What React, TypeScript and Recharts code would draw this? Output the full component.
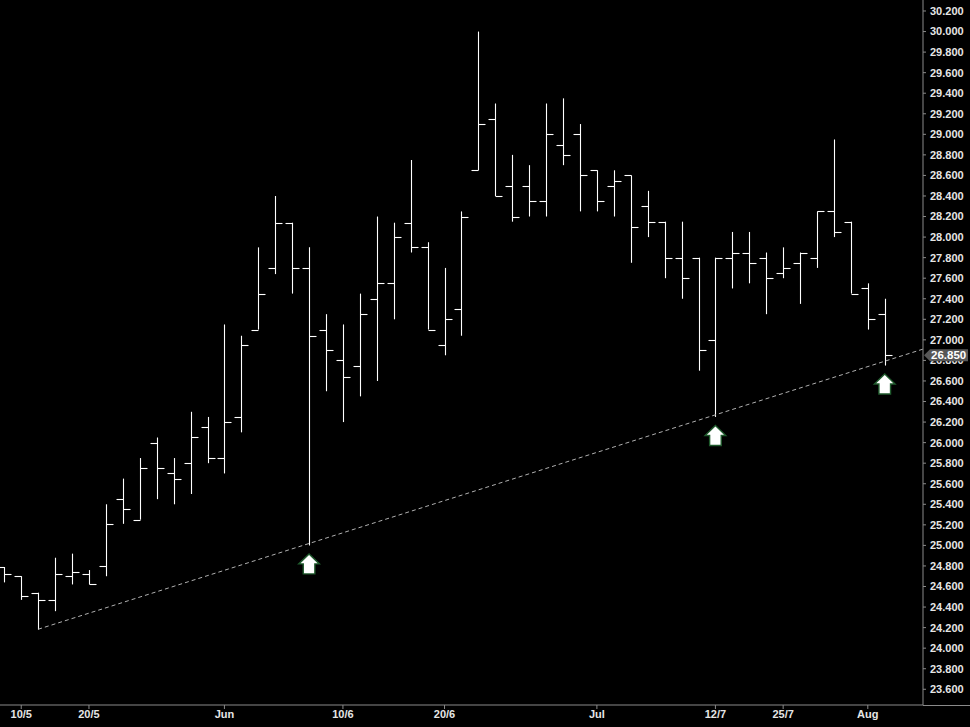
import React from 'react';
import { ComposedChart, Bar, XAxis, YAxis, Scatter, ReferenceLine } from 'recharts';

const opens = [24.79, 24.70, 24.54, 24.47, 24.70, 24.72, 24.80, 25.45, 25.25, 26.00, 25.70, 25.80, 26.15, 25.85, 26.25, 27.10, 27.70, 28.14, 27.70, 27.10, 26.80, 26.75, 27.40, 27.55, 28.14, 27.90, 26.95, 27.30, 28.65, 29.15, 28.50, 28.50, 28.35, 28.90, 29.00, 28.65, 28.50, 28.60, 28.30, 28.15, 27.80, 27.80, 27.00, 27.80, 27.85, 27.80, 27.65, 27.75, 27.80, 28.25, 28.15, 27.50, 27.25];
const highs = [24.79, 24.70, 24.54, 24.88, 24.92, 24.76, 25.40, 25.65, 25.85, 26.05, 25.85, 26.30, 26.25, 27.15, 27.04, 27.90, 28.40, 28.14, 27.90, 27.25, 27.15, 27.45, 28.20, 28.14, 28.75, 27.95, 27.70, 28.25, 30.00, 29.30, 28.80, 28.70, 29.30, 29.35, 29.10, 28.65, 28.65, 28.60, 28.45, 28.15, 28.15, 27.80, 27.80, 28.05, 28.05, 27.85, 27.90, 27.85, 28.25, 28.95, 28.15, 27.55, 27.40];
const lows = [24.64, 24.47, 24.18, 24.36, 24.62, 24.62, 24.70, 25.21, 25.25, 25.45, 25.40, 25.50, 25.80, 25.70, 26.10, 27.10, 27.64, 27.45, 25.00, 26.50, 26.20, 26.45, 26.60, 27.20, 27.85, 27.10, 26.85, 27.04, 28.65, 28.40, 28.15, 28.20, 28.20, 28.70, 28.25, 28.25, 28.20, 27.75, 28.00, 27.60, 27.40, 26.70, 26.25, 27.50, 27.55, 27.25, 27.60, 27.35, 27.70, 28.00, 27.45, 27.10, 26.75];
const closes = [24.72, 24.51, 24.47, 24.72, 24.74, 24.62, 25.21, 25.35, 25.75, 25.75, 25.65, 26.05, 25.85, 26.20, 26.95, 27.45, 28.14, 27.70, 27.04, 26.90, 26.64, 27.25, 27.55, 28.00, 27.90, 27.10, 27.20, 28.20, 29.10, 28.40, 28.20, 28.35, 29.00, 28.80, 28.60, 28.35, 28.55, 28.10, 28.15, 27.80, 27.60, 26.90, 27.80, 27.85, 27.75, 27.60, 27.70, 27.85, 28.25, 28.05, 27.45, 27.20, 26.85];

const tickIdx = [1, 5, 13, 20, 26, 35, 42, 46, 51];
const tickLabels = ['10/5', '20/5', 'Jun', '10/6', '20/6', 'Jul', '12/7', '25/7', 'Aug'];

const priceTicks = [23.6, 23.8, 24.0, 24.2, 24.4, 24.6, 24.8, 25.0, 25.2, 25.4, 25.6, 25.8, 26.0, 26.2, 26.4, 26.6, 26.8, 27.0, 27.2, 27.4, 27.6, 27.8, 28.0, 28.2, 28.4, 28.6, 28.8, 29.0, 29.2, 29.4, 29.6, 29.8, 30.0, 30.2];

const arrowBars = [18, 42, 52];
const trendStart = { i: 2, p: 24.184 };
const trendEnd = { i: 54.26, p: 26.91 };
const lastPrice = 26.85;

const xDomain = [-0.254, 54.26];
const yDomain = [23.447, 30.307];

const data = opens.map((o, i) => ({
  i,
  open: o,
  high: highs[i],
  low: lows[i],
  close: closes[i],
  range: [lows[i], highs[i]],
}));

const arrowData = arrowBars.map((i) => ({ i, p: lows[i] }));
const priceData = [{ i: xDomain[1], p: lastPrice }];

const FONT = '"Liberation Sans", Arial, sans-serif';

const OhlcShape = (props: any) => {
  const { x, y, width, height, payload } = props;
  if (!payload) return null;
  const top = Math.min(y, y + height);
  const h = Math.abs(height);
  const cx = Math.round(x + width / 2) + 0.5;
  const span = payload.high - payload.low;
  const py = (p: number) => Math.round(span > 0 ? top + ((payload.high - p) / span) * h : top) + 0.5;
  const tick = 7;
  return (
    <g stroke="#ffffff" strokeWidth={1.1}>
      <line x1={cx} x2={cx} y1={top} y2={top + Math.max(h, 1)} />
      <line x1={cx - tick} x2={cx} y1={py(payload.open)} y2={py(payload.open)} />
      <line x1={cx} x2={cx + tick} y1={py(payload.close)} y2={py(payload.close)} />
    </g>
  );
};

const ArrowShape = (props: any) => {
  const { cx, cy } = props;
  if (cx == null || cy == null) return null;
  const t = cy + 8.5;
  const pts = [
    [cx, t],
    [cx + 10.3, t + 10],
    [cx + 5.8, t + 10],
    [cx + 5.8, t + 20],
    [cx - 5.8, t + 20],
    [cx - 5.8, t + 10],
    [cx - 10.3, t + 10],
  ]
    .map((p) => p.join(','))
    .join(' ');
  return <polygon points={pts} fill="#ffffff" stroke="#1f5a2c" strokeWidth={1.4} />;
};

const renderPriceTick = (props: any) => {
  const { y, payload, index } = props;
  if (y == null) return <g key={`pt-${index}`} />;
  const x0 = 924;
  const pts = [
    [x0, y],
    [x0 + 6, y - 6],
    [x0 + 44, y - 6],
    [x0 + 44, y + 6],
    [x0 + 6, y + 6],
  ]
    .map((p) => p.join(','))
    .join(' ');
  return (
    <g key={`pt-${index}`}>
      <polygon points={pts} fill="#575757" />
      <text x={x0 + 7} y={y + 4} fill="#ffffff" fontSize={11.5} fontWeight="bold" fontFamily={FONT}>
        {Number(payload.value).toFixed(3)}
      </text>
    </g>
  );
};

export default function App() {
  return (
    <div style={{ position: 'absolute', left: 0, top: 0, width: 970, height: 727, background: '#000', overflow: 'hidden' }}>
      <ComposedChart
        width={970}
        height={727}
        data={data}
        margin={{ top: 0, right: 0, bottom: 0, left: 0 }}
        style={{ background: '#000' }}
      >
        <XAxis
          dataKey="i"
          type="number"
          domain={xDomain}
          ticks={tickIdx}
          tickFormatter={(v: number) => tickLabels[tickIdx.indexOf(v)] ?? ''}
          height={22}
          stroke="#8a8a8a"
          tickSize={4}
          tickMargin={1}
          tick={{ fill: '#e6e6e6', fontSize: 11, fontWeight: 'bold', fontFamily: FONT }}
          interval={0}
        />
        <YAxis
          orientation="right"
          type="number"
          domain={yDomain}
          ticks={priceTicks}
          tickFormatter={(v: number) => v.toFixed(3)}
          width={42}
          stroke="#8a8a8a"
          tickSize={3}
          tickMargin={4}
          tick={{ fill: '#e6e6e6', fontSize: 11, fontWeight: 'bold', fontFamily: FONT }}
          interval={0}
        />
        <YAxis
          yAxisId="last"
          orientation="right"
          type="number"
          domain={yDomain}
          ticks={[lastPrice]}
          width={5}
          axisLine={false}
          tickLine={false}
          tickSize={0}
          tickMargin={0}
          tick={renderPriceTick}
          interval={0}
        />
        <ReferenceLine
          segment={[
            { x: trendStart.i, y: trendStart.p },
            { x: trendEnd.i, y: trendEnd.p },
          ]}
          stroke="#b0b0b0"
          strokeDasharray="4 3"
          strokeWidth={1}
          ifOverflow="visible"
        />
        <Bar dataKey="range" barSize={13} shape={<OhlcShape />} isAnimationActive={false} />
        <Scatter data={arrowData} dataKey="p" shape={<ArrowShape />} isAnimationActive={false} />
        <Scatter yAxisId="last" data={priceData} dataKey="p" shape={<g />} isAnimationActive={false} />
      </ComposedChart>
      <div style={{ position: 'absolute', left: 923, top: 705, width: 47, height: 1, background: '#8a8a8a' }} />
    </div>
  );
}
